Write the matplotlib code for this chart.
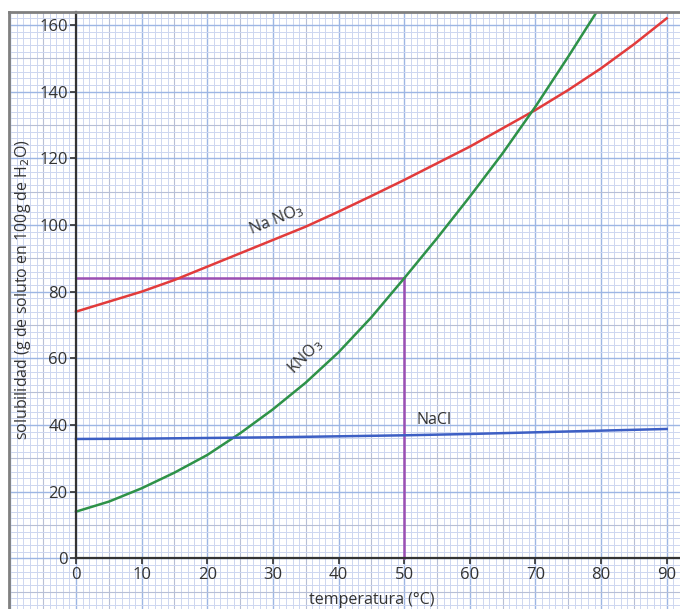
import numpy as np
import matplotlib
matplotlib.use("Agg")
import matplotlib.pyplot as plt

# ---- data ----
nano3_t = [0, 5, 10, 15, 20, 25, 30, 35, 40, 45, 50, 55, 60, 65, 70, 75, 80, 85, 90]
nano3 = [74, 77, 80, 83.5, 87.5, 91.5, 95.5, 99.5, 104, 108.7, 113.5, 118.5, 123.5,
         129, 134.5, 140.5, 147, 154.2, 162]
kno3_t = [0, 5, 10, 15, 20, 25, 30, 35, 40, 45, 50, 55, 60, 65, 70, 75, 80]
kno3 = [14, 17, 21, 25.7, 31, 37.5, 44.7, 52.7, 61.8, 72.3, 84, 96, 108.5, 121.5, 135.5, 150.5, 166]
nacl_t = [0, 10, 20, 30, 40, 50, 60, 70, 80, 90]
nacl = [35.8, 35.9, 36.1, 36.3, 36.6, 36.9, 37.3, 37.8, 38.3, 38.8]
guide_t = 50
guide_s = 84
xticks = [0, 10, 20, 30, 40, 50, 60, 70, 80, 90]
yticks = [0, 20, 40, 60, 80, 100, 120, 140, 160]

plt.rcParams['font.family'] = ['Open Sans', 'DejaVu Sans']

fig = plt.figure(figsize=(6.8, 6.09), dpi=100)
W, H = 680, 609
px_per_x = (666.7 - 76) / 90
px_per_y = (558.3 - 25) / 160
left_px, top_px = 8.5, 11.5
xmin = (left_px - 76) / px_per_x
xmax = (W - 76) / px_per_x
ymax = 160 + (25 - top_px) / px_per_y
ymin = -(H - 558.3) / px_per_y

ax = fig.add_axes([left_px / W, 0, 1 - left_px / W, 1 - top_px / H])
ax.set_xlim(xmin, xmax)
ax.set_ylim(ymin, ymax)

# graph-paper grid
for x in np.arange(np.ceil(xmin), xmax, 1):
    xi = int(round(x))
    if xi % 10 == 0:
        c, lw = '#9db6e4', 1.0
    elif xi % 5 == 0:
        c, lw = '#b7bfd6', 0.8
    else:
        c, lw = '#cdd6f0', 0.7
    ax.axvline(x, color=c, lw=lw, zorder=0)
for y in np.arange(np.ceil(ymin / 2) * 2, ymax, 2):
    yi = int(round(y))
    if yi % 20 == 0:
        c, lw = '#9db6e4', 1.0
    elif yi % 10 == 0:
        c, lw = '#b7bfd6', 0.8
    else:
        c, lw = '#cdd6f0', 0.7
    ax.axhline(y, color=c, lw=lw, zorder=0)

# spines
for s in ['top', 'right']:
    ax.spines[s].set_visible(False)
ax.spines['left'].set_position(('data', 0))
ax.spines['bottom'].set_position(('data', 0))
ax.spines['left'].set_bounds(0, ymax)
ax.spines['bottom'].set_bounds(0, xmax)
for s in ['left', 'bottom']:
    ax.spines[s].set_color('#333333')
    ax.spines[s].set_linewidth(1.6)
    ax.spines[s].set_zorder(5)

# outer frame (top & left)
ax.plot([0, 0], [0, 1], transform=ax.transAxes, color='#808080', lw=2, clip_on=False, zorder=6)
ax.plot([0, 1], [1, 1], transform=ax.transAxes, color='#808080', lw=2, clip_on=False, zorder=6)

ax.set_xticks(xticks)
ax.set_yticks(yticks)
ax.tick_params(axis='both', direction='out', length=4, width=1.2, color='#333333',
               labelsize=12, labelcolor='#333333', pad=2)

# curves
ax.plot(nano3_t, nano3, color='#e23b3b', lw=1.8, zorder=3, solid_joinstyle='round')
ax.plot(kno3_t, kno3, color='#2e9248', lw=1.8, zorder=3, solid_joinstyle='round')
ax.plot(nacl_t, nacl, color='#3d5fc4', lw=1.8, zorder=3)

# guide lines
ax.plot([0, guide_t], [guide_s, guide_s], color='#9b4fb3', lw=1.8, zorder=2)
ax.plot([guide_t, guide_t], [0, guide_s], color='#9b4fb3', lw=1.8, zorder=2)

# labels on curves
ax.text(30.5, 101.5, 'Na NO$_3$', rotation=22, ha='center', va='center', fontsize=11.5, color='#333333')
ax.text(35.0, 60.5, 'KNO$_3$', rotation=45, ha='center', va='center', fontsize=11.5, color='#333333')
ax.text(54.5, 41.5, 'NaCl', ha='center', va='center', fontsize=11.5, color='#333333')

# axis titles
ax.text(45, -12.5, 'temperatura (°C)', ha='center', va='center', fontsize=11.5, color='#333333')
ax.text(-8.1, 80.5, 'solubilidad (g de soluto en 100g de H$_2$O)', rotation=90,
        ha='center', va='center', fontsize=11.5, color='#333333')

fig.savefig('out.png', dpi=100)
